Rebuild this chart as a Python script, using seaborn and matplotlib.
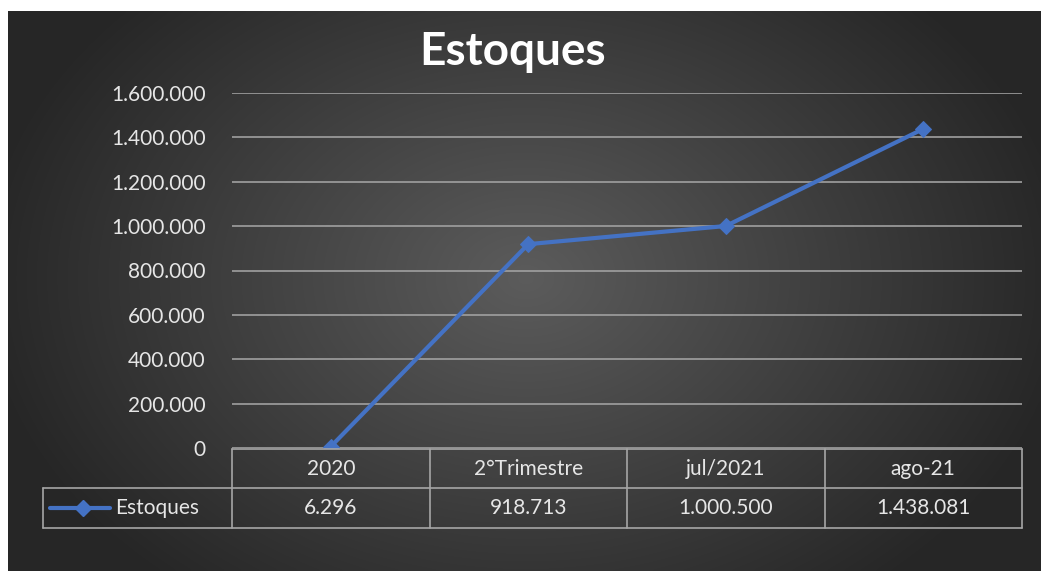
import numpy as np
import matplotlib
matplotlib.use("Agg")
import matplotlib.pyplot as plt
import seaborn as sns
import pandas as pd
from matplotlib.ticker import FuncFormatter
from matplotlib.lines import Line2D

sns.set_theme(style="dark")
plt.rcParams["font.family"] = ["Lato", "DejaVu Sans"]

# dados
categorias = ["2020", "2°Trimestre", "jul/2021", "ago-21"]
valores = [6296, 918713, 1000500, 1438081]
rotulos_valores = ["6.296", "918.713", "1.000.500", "1.438.081"]
serie = "Estoques"

df = pd.DataFrame({"pos": range(len(categorias)), "valor": valores})

W, H = 1041, 571
fig = plt.figure(figsize=(W / 100, H / 100), dpi=100)
fig.patch.set_facecolor("white")

# fundo com gradiente radial
bg = fig.add_axes([8 / W, 0, 1 - 8 / W, 1 - 11 / H])
gy, gx = np.mgrid[0:200, 0:360]
r = np.sqrt(((gx - 180) / 200.0) ** 2 + ((gy - 95) / 150.0) ** 2)
shade = np.clip(0.36 - 0.22 * r, 0.15, 0.36)
bg.imshow(np.dstack([shade] * 3), aspect="auto", extent=[0, 1, 0, 1], interpolation="bicubic")
bg.set_axis_off()

cor_linha = "#4472C4"
cor_grade = "#a0a0a0"
cor_texto = "#e6e6e6"

ax = fig.add_axes([232 / W, 1 - 448 / H, (1022 - 232) / W, (448 - 93) / H])
ax.set_facecolor("none")
sns.lineplot(data=df, x="pos", y="valor", ax=ax, color=cor_linha, linewidth=3,
             marker="D", markersize=8, markeredgecolor=cor_linha)
ax.set_xlim(-0.5, len(categorias) - 0.5)
ax.set_ylim(0, 1600000)
ax.set_yticks(np.arange(0, 1600001, 200000))
ax.yaxis.set_major_formatter(FuncFormatter(lambda v, p: f"{int(v):,}".replace(",", ".")))
ax.set_xticks([])
ax.set_xlabel("")
ax.set_ylabel("")
ax.grid(axis="y", color=cor_grade, linewidth=1.2)
ax.grid(axis="x", visible=False)
for s in ax.spines.values():
    s.set_visible(False)
ax.tick_params(axis="y", length=0, pad=19, labelsize=15, labelcolor=cor_texto)

# título
fig.text(513 / W, 1 - 52 / H, "Estoques", ha="center", va="center",
         fontsize=33, fontweight="bold", color="white")

# tabela de dados
trans = ax.get_xaxis_transform()
n = len(categorias)
largura = 197.5  # px por categoria


def px(x):
    return -0.5 + (x - 232) / largura


y_top, y_mid, y_bot = -0.003, -0.113, -0.225
x_leg = px(43)
kw = dict(transform=trans, color="#a6a6a6", linewidth=1.2, clip_on=False)
ax.add_line(Line2D([-0.5, n - 0.5], [y_top, y_top], **kw))
ax.add_line(Line2D([x_leg, n - 0.5], [y_mid, y_mid], **kw))
ax.add_line(Line2D([x_leg, n - 0.5], [y_bot, y_bot], **kw))
ax.add_line(Line2D([x_leg, x_leg], [y_mid, y_bot], **kw))
for i in range(n + 1):
    ax.add_line(Line2D([i - 0.5, i - 0.5], [y_top, y_bot], **kw))
for i, (c, v) in enumerate(zip(categorias, rotulos_valores)):
    ax.text(i, (y_top + y_mid) / 2, c, transform=trans, ha="center", va="center",
            fontsize=15, color=cor_texto)
    ax.text(i, (y_mid + y_bot) / 2, v, transform=trans, ha="center", va="center",
            fontsize=15, color=cor_texto)
# chave da legenda
ym = (y_mid + y_bot) / 2
ax.add_line(Line2D([px(50), px(83), px(110)], [ym, ym, ym], transform=trans, color=cor_linha,
                   linewidth=3, marker="D", markersize=8, markevery=[1], clip_on=False))
ax.text(px(115), ym, serie, transform=trans, ha="left", va="center",
        fontsize=15, color=cor_texto)

fig.savefig("out.png", dpi=100)
